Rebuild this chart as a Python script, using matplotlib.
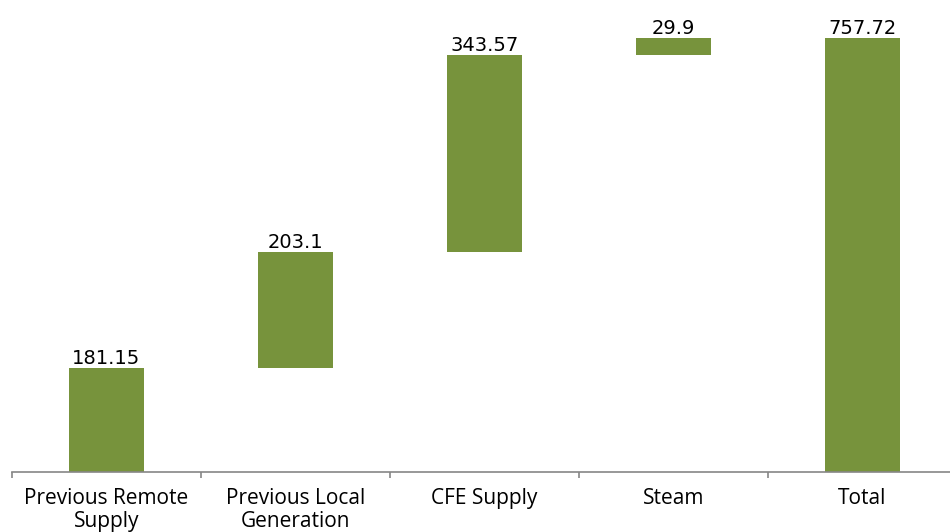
import matplotlib
matplotlib.use("Agg")
import matplotlib.pyplot as plt

categories = ["Previous Remote\nSupply", "Previous Local\nGeneration", "CFE Supply", "Steam", "Total"]
steps = [181.15, 203.1, 343.57, 29.9]
total = 757.72
value_labels = ["181.15", "203.1", "343.57", "29.9", "757.72"]

# waterfall: each step sits on the running sum, total starts from zero
bottoms = []
running = 0
for s in steps:
    bottoms.append(running)
    running += s
heights = steps + [total]
bottoms = bottoms + [0]

fig = plt.figure(figsize=(9.5, 5.32), dpi=100)
ax = fig.add_axes([12 / 950, 1 - 471.5 / 532, 945 / 950, 471.5 / 532])

x = list(range(len(categories)))
ax.bar(x, heights, bottom=bottoms, width=0.4, color="#77933C")

for xi, b, h, lab in zip(x, bottoms, heights, value_labels):
    ax.text(xi, b + h, lab, ha="center", va="bottom", fontsize=14,
            family="DejaVu Sans", color="black")

ax.set_xlim(-0.5, len(categories) - 0.5)
ax.set_ylim(0, 471.5 / (433.5 / 757.72))

for side in ["top", "right", "left"]:
    ax.spines[side].set_visible(False)
ax.spines["bottom"].set_color("#868686")
ax.spines["bottom"].set_linewidth(1.2)
ax.set_yticks([])

ax.set_xticks([i - 0.5 for i in range(len(categories) + 1)])
ax.set_xticklabels([])
ax.set_xticks(x, minor=True)
ax.set_xticklabels(categories, minor=True, fontsize=15, family="Open Sans",
                   linespacing=1.1)
ax.tick_params(axis="x", which="major", length=4, color="#868686", width=1.2)
ax.tick_params(axis="x", which="minor", length=0, pad=12)

fig.savefig("out.png", dpi=100)
